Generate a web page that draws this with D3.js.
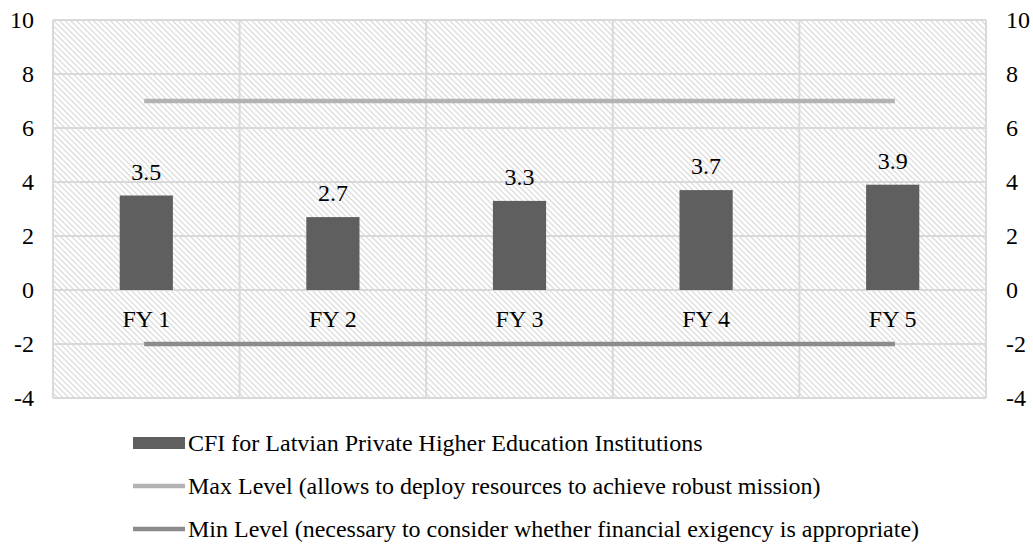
<!DOCTYPE html>
<html><head><meta charset="utf-8">
<script src="https://cdn.jsdelivr.net/npm/d3@7"></script>
<style>body{margin:0;background:#fff}svg{display:block}</style>
</head><body><svg id="c" width="1033" height="545"></svg>
<script>
const categories = ["FY 1","FY 2","FY 3","FY 4","FY 5"];
const cfiValues = [3.5, 2.7, 3.3, 3.7, 3.9];
const maxLevel = [7, 7, 7, 7, 7];
const minLevel = [-2, -2, -2, -2, -2];
const yTicks = [-4, -2, 0, 2, 4, 6, 8, 10];
const legendLabels = [
  "CFI for Latvian Private Higher Education Institutions",
  "Max Level (allows to deploy resources to achieve robust mission)",
  "Min Level (necessary to consider whether financial exigency is appropriate)"
];

const FONT = "Liberation Serif";
const FS = "24px";
const svg = d3.select("#c");
const L = 53, R = 986, T = 20, B = 398;
const x = d3.scaleBand().domain(categories).range([L, R]).paddingInner(0).paddingOuter(0);
const y = d3.scaleLinear().domain([-4, 10]).range([B, T]);
const cx = c => x(c) + x.bandwidth()/2;

const defs = svg.append("defs");
const pat = defs.append("pattern").attr("id","hatch").attr("patternUnits","userSpaceOnUse")
  .attr("width",4).attr("height",4).attr("patternTransform","rotate(45)");
pat.append("rect").attr("width",4).attr("height",4).attr("fill","#fff");
pat.append("line").attr("x1",0).attr("y1",0).attr("x2",4).attr("y2",0).attr("stroke","#d6d6d6").attr("stroke-width",2.2);

svg.append("rect").attr("x",L).attr("y",T).attr("width",R-L).attr("height",B-T).attr("fill","url(#hatch)");

// gridlines
svg.append("g").selectAll("line").data(yTicks).join("line")
  .attr("x1",L).attr("x2",R).attr("y1",d=>y(d)).attr("y2",d=>y(d))
  .attr("stroke","#d9d9d9").attr("stroke-width",2);
const bounds = categories.map(c=>x(c)).concat([R]);
svg.append("g").selectAll("line").data(bounds).join("line")
  .attr("x1",d=>d).attr("x2",d=>d).attr("y1",T).attr("y2",B)
  .attr("stroke","#d9d9d9").attr("stroke-width",2);

// bars
const bw = x.bandwidth()*0.285;
svg.append("g").selectAll("rect").data(cfiValues).join("rect")
  .attr("x",(d,i)=>cx(categories[i])-bw/2)
  .attr("width",bw)
  .attr("y",d=>y(d)).attr("height",d=>y(0)-y(d))
  .attr("fill","#5f5f5f");

// data labels
svg.append("g").selectAll("text").data(cfiValues).join("text")
  .attr("x",(d,i)=>cx(categories[i]))
  .attr("y",d=>y(d)-16)
  .attr("text-anchor","middle").style("font-family",FONT).style("font-size",FS)
  .text(d=>d.toFixed(1));

// category labels
svg.append("g").selectAll("text").data(categories).join("text")
  .attr("x",d=>cx(d)).attr("y",y(0)+37)
  .attr("text-anchor","middle").style("font-family",FONT).style("font-size",FS).text(d=>d);

// lines
const line = d3.line().x((d,i)=>cx(categories[i])).y(d=>y(d));
svg.append("path").datum(maxLevel).attr("d",line).attr("fill","none").attr("stroke","#b3b3b3").attr("stroke-width",4.3).attr("stroke-linecap","square");
svg.append("path").datum(minLevel).attr("d",line).attr("fill","none").attr("stroke","#8c8c8c").attr("stroke-width",4.3).attr("stroke-linecap","square");

// axes labels
svg.append("g").selectAll("text").data(yTicks).join("text")
  .attr("x",34).attr("y",d=>y(d)+8).attr("text-anchor","end").style("font-family",FONT).style("font-size",FS).text(d=>d);
svg.append("g").selectAll("text").data(yTicks).join("text")
  .attr("x",1006).attr("y",d=>y(d)+8).attr("text-anchor","start").style("font-family",FONT).style("font-size",FS).text(d=>d);

// legend
const ly = [443, 486, 529];
const lg = svg.append("g");
lg.append("rect").attr("x",133).attr("y",ly[0]-6).attr("width",52).attr("height",12).attr("fill","#5f5f5f");
lg.append("line").attr("x1",133).attr("x2",185).attr("y1",ly[1]).attr("y2",ly[1]).attr("stroke","#b3b3b3").attr("stroke-width",4.3);
lg.append("line").attr("x1",133).attr("x2",185).attr("y1",ly[2]).attr("y2",ly[2]).attr("stroke","#8c8c8c").attr("stroke-width",4.3);
lg.selectAll("text").data(legendLabels).join("text")
  .attr("x",188).attr("y",(d,i)=>ly[i]+8).style("font-family",FONT).style("font-size",FS).text(d=>d);
</script></body></html>
